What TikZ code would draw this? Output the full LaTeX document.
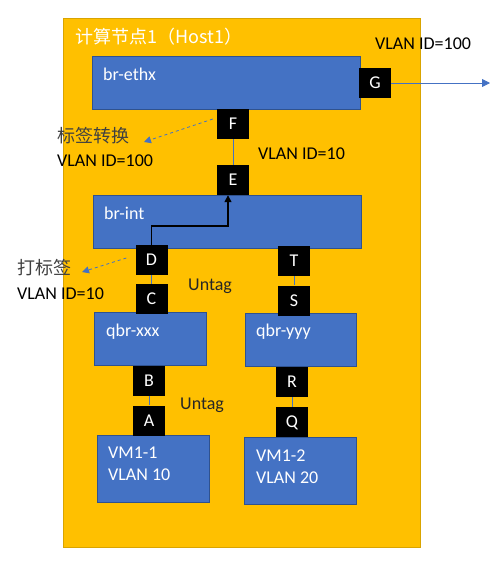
\documentclass[tikz,border=0pt]{standalone}
\usepackage{fontspec}
\setmainfont{Carlito}
\newfontfamily\cjk{Noto Sans CJK SC}
\usetikzlibrary{calc,arrows.meta}
\definecolor{hostfill}{HTML}{FFC000}
\definecolor{hostline}{HTML}{D9A400}
\definecolor{brfill}{HTML}{4472C4}
\definecolor{brline}{HTML}{2F528F}
\definecolor{cngray}{HTML}{404040}

\begin{document}
\begin{tikzpicture}[x=1pt,y=-1pt]
            \tikzstyle{every node}=[inner sep=0pt, font=\fontsize{18}{21}\selectfont]
            \tikzstyle{bridge}=[draw=brline, fill=brfill, line width=0.8pt, minimum width=268pt, minimum height=53pt]
            \tikzstyle{vmbox}=[bridge, minimum width=112pt]
            \tikzstyle{port}=[fill=black, text=white, minimum width=32pt, minimum height=30pt, text depth=0pt]
            \tikzstyle{txt}=[anchor=west]
            \tikzstyle{wtxt}=[anchor=west, text=white]
            \tikzstyle{link}=[draw=brfill, line width=0.8pt]
            \tikzstyle{hint}=[draw=brfill, dashed, line width=0.8pt, -{Triangle[length=7pt,width=7pt]}]
            \useasboundingbox (0,0) rectangle (499,562);
            \draw[fill=hostfill, draw=hostline] (63,18) rectangle (420,547);
            \node[wtxt] (title) at (75,37) {\cjk 计算节点1（Host1）};
            % bridges
            \node[bridge] (ethx) at (226,83) {};
            \node[bridge] (int) at (227,221.5) {};
            \node[vmbox] (qbrx) at (150,338.5) {};
            \node[vmbox, minimum width=111pt] (qbry) at (300.5,339.5) {};
            \node[vmbox, minimum height=67pt] (vm1) at (153,468.5) {};
            \node[vmbox, minimum height=67pt] (vm2) at (300,470.5) {};
            \node[wtxt] at (103,74) {br-ethx};
            \node[wtxt] at (104,213) {br-int};
            \node[wtxt] at (106,332) {qbr-xxx};
            \node[wtxt] at (256,332) {qbr-yyy};
            \node[wtxt] at (108,453) {VM1-1};
            \node[wtxt] at (108,475) {VLAN 10};
            \node[wtxt] at (256,456) {VM1-2};
            \node[wtxt] at (256,478) {VLAN 20};
            % ports
            \node[port] (G) at (375,83) {G};
            \node[port] (F) at (233,124) {F};
            \node[port] (E) at (233,180) {E};
            \node[port] (D) at (151.5,260) {D};
            \node[port] (C) at (151.5,299) {C};
            \node[port] (T) at (294,261) {T};
            \node[port] (S) at (294,300.5) {S};
            \node[port] (B) at (149,380.5) {B};
            \node[port] (A) at (149,420.5) {A};
            \node[port] (R) at (292,382) {R};
            \node[port] (Q) at (292,422) {Q};
            \draw[link] (F)--(E);
            \draw[link] (D)--(C);
            \draw[link] (T)--(S);
            \draw[link] (B)--(A);
            \draw[link] (R)--(Q);
            \coordinate (out) at (490,83);
            \draw[link, -{Triangle[length=8pt,width=8pt]}] (G)--(out);
            \draw[line width=1.5pt, -{Triangle[length=7pt,width=7pt]}] (D.north) |- ($(E.south)+(-5,31)$) -- ($(E.south)+(-5,0)$);
            % notes
            \coordinate (n1) at (144,142);
            \coordinate (n2) at (82,272);
            \draw[hint] ($(F.west)+(-4,-5)$)--(n1);
            \draw[hint] ($(D.west)+(-9,-2)$)--(n2);
            \node[txt] at (375,44) {VLAN ID=100};
            \node[txt, text=cngray] at (57,136) {\cjk 标签转换};
            \node[txt] at (57,161) {VLAN ID=100};
            \node[txt] at (258,154) {VLAN ID=10};
            \node[txt, text=cngray] at (17,268) {\cjk 打标签};
            \node[txt] at (17,294) {VLAN ID=10};
            \node[txt, text=black!85] at (188,286) {Untag};
            \node[txt, text=black!85] at (180,405) {Untag};
        \end{tikzpicture}
\end{document}
